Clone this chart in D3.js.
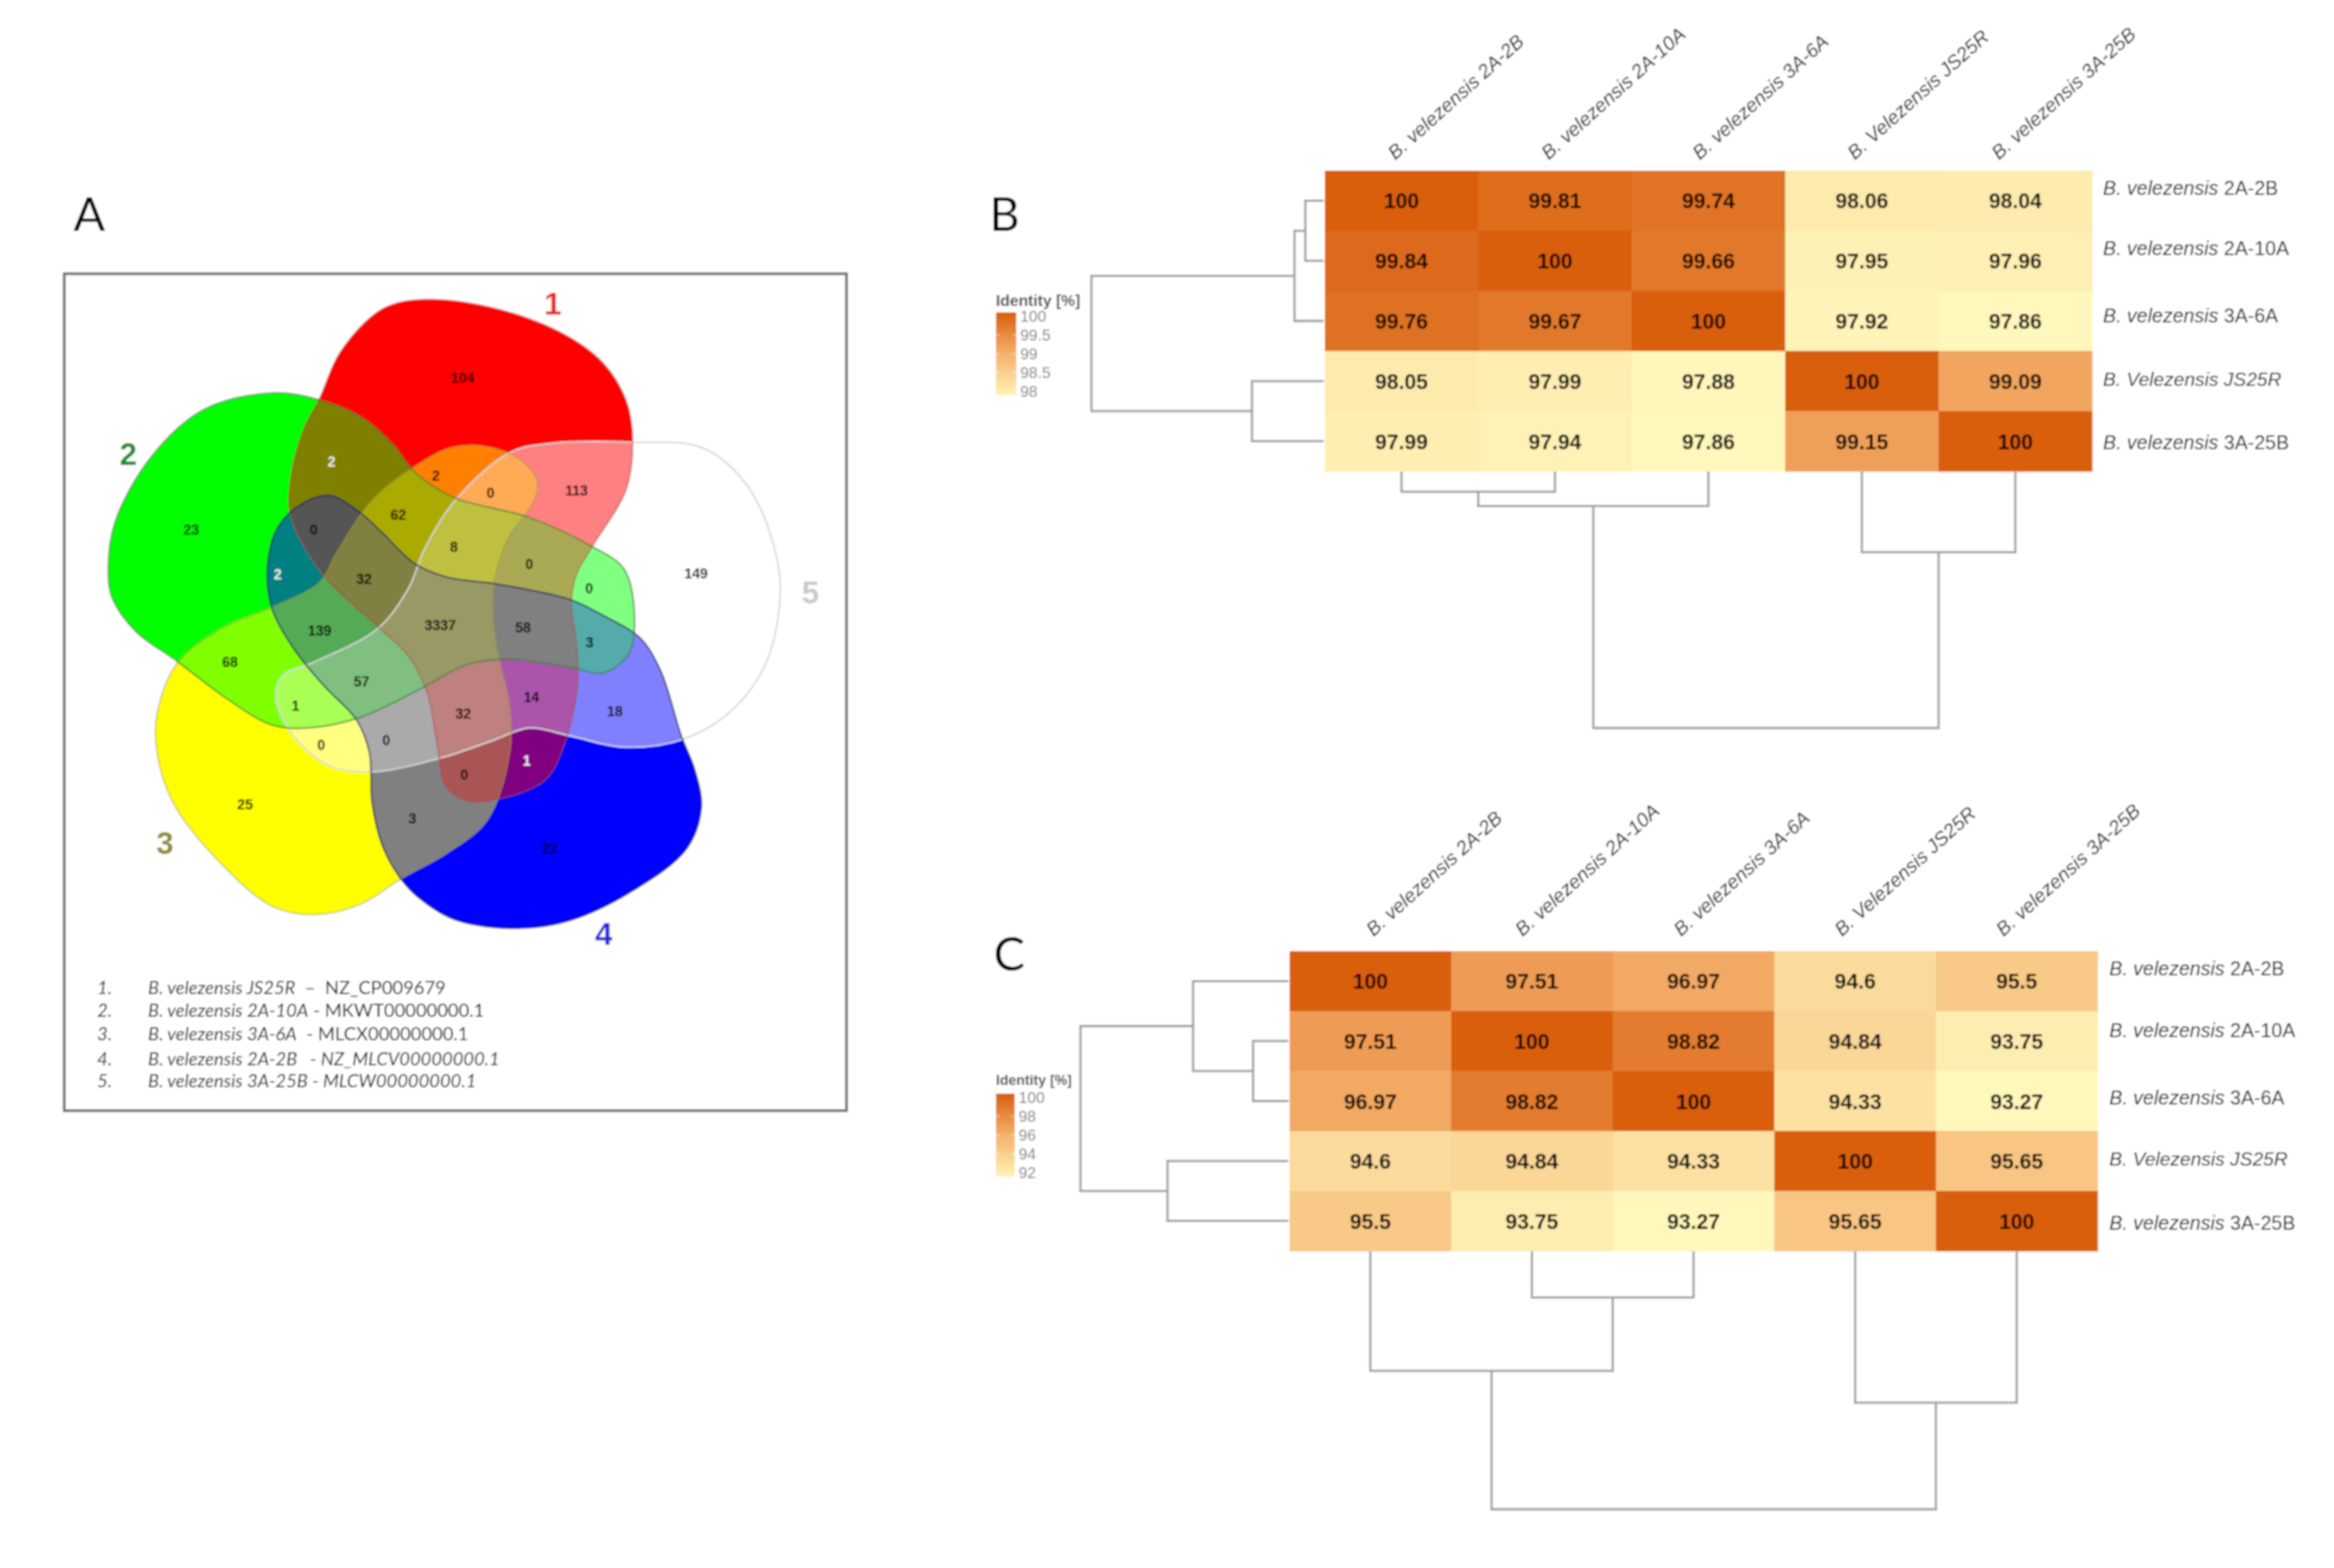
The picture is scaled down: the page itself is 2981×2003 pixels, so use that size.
<!DOCTYPE html>
<html>
<head>
<meta charset="utf-8">
<title>Venn diagram and identity heatmaps</title>
<script src="https://cdn.jsdelivr.net/npm/d3@7"></script>
<style>
html,body{margin:0;padding:0;background:#fff}
svg{display:block}
text{font-family:"Liberation Sans",Arial,sans-serif}
</style>
</head>
<body>
<svg id="chart" width="2981" height="2003"></svg>
<script>
// ---------- data ----------
const strains = ["2A-2B","2A-10A","3A-6A","JS25R","3A-25B"];
const colLabelsItalic = ["B. velezensis 2A-2B","B. velezensis 2A-10A","B. velezensis 3A-6A","B. Velezensis JS25R","B. velezensis 3A-25B"];
const aniValues = [
  [100,99.81,99.74,98.06,98.04],
  [99.84,100,99.66,97.95,97.96],
  [99.76,99.67,100,97.92,97.86],
  [98.05,97.99,97.88,100,99.09],
  [97.99,97.94,97.86,99.15,100]];
const dddhValues = [
  [100,97.51,96.97,94.6,95.5],
  [97.51,100,98.82,94.84,93.75],
  [96.97,98.82,100,94.33,93.27],
  [94.6,94.84,94.33,100,95.65],
  [95.5,93.75,93.27,95.65,100]];
const aniTicks = [100,99.5,99,98.5,98];
const dddhTicks = [100,98,96,94,92];
// dendrogram merges: relative height, children (row/column index or sub-tree)
const aniRowTree = {h:1,kids:[{h:.121,kids:[{h:.074,kids:[0,1]},2]},{h:.305,kids:[3,4]}]};
const aniColTree = {h:1,kids:[{h:.13,kids:[{h:.074,kids:[0,1]},2]},{h:.311,kids:[3,4]}]};
const dddhRowTree = {h:1,kids:[{h:.455,kids:[0,{h:.165,kids:[1,2]}]},{h:.579,kids:[3,4]}]};
const dddhColTree = {h:1,kids:[{h:.461,kids:[0,{h:.175,kids:[1,2]}]},{h:.585,kids:[3,4]}]};

// Venn: set outlines in diagram units (0..1568)
const setRed = [[520,255],[560,170],[640,92],[720,75],[850,90],[980,135],[1060,190],[1105,260],[1117,335],[1105,420],[1040,525],[1010,575],[1000,630],[1010,700],[1012,780],[985,890],[950,950],[860,985],[800,988],[760,960],[745,890],[725,790],[690,725],[630,670],[530,580],[465,470],[465,400],[490,310]];
const setGreen = [[430,245],[520,258],[600,290],[660,340],[700,388],[775,435],[920,472],[1040,525],[1100,565],[1120,640],[1110,720],[1060,755],[1000,745],[880,730],[800,740],[720,780],[600,835],[500,855],[430,850],[340,800],[250,735],[170,680],[125,620],[117,570],[130,480],[200,360],[300,275]];
const setYellow = [[250,735],[210,830],[210,900],[240,990],[330,1100],[430,1180],[510,1195],[600,1175],[675,1130],[760,1085],[830,1035],[860,985],[885,880],[880,800],[860,720],[850,640],[855,580],[880,510],[930,440],[935,405],[900,365],[840,343],[770,345],[700,380],[620,440],[550,540],[520,590],[430,635],[340,670]];
const setBlue = [[675,1130],[710,1165],[780,1205],[900,1220],[1000,1205],[1120,1150],[1220,1075],[1248,1000],[1235,930],[1210,870],[1170,750],[1130,690],[1060,650],[1000,622],[900,600],[850,592],[760,580],[700,555],[640,500],[600,465],[540,432],[490,445],[440,490],[420,570],[430,640],[470,710],[530,780],[590,840],[615,900],[620,990],[640,1070]];
const setWhite = [[880,355],[960,337],[1117,335],[1250,345],[1340,420],[1395,560],[1395,650],[1370,740],[1310,820],[1215,875],[1100,890],[1000,870],[920,855],[850,878],[750,910],[620,935],[540,925],[470,870],[437,800],[450,760],[510,735],[630,675],[690,600],[720,530],[775,445]];
const vennSets = [setRed,setGreen,setYellow,setBlue,setWhite];
const setColors = ["#ff0000","#00ff00","#ffff00","#0000ff","#ffffff"];
const setStrokes = ["#a23a3a","#2f7d2f","#8c8c30","#20205a","#d6d6d6"];
const setStrokeOpacity = [.45,.7,.45,.75,1];
const setNames = ["1","2","3","4","5"];
const setNameColors = ["#ef2b2b","#1f8a32","#8f8b2e","#2525e0","#c9c9c9"];
const setNamePos = [[965,82],[155,357],[225,1065],[1062,1230],[1456,608]];
const vennCounts = [
 ["104",793,218],["23",275,495],["25",378,995],["22",958,1075],["149",1238,575],
 ["2",543,370,1],["2",742,396],["0",846,428],["113",1010,423],["62",670,468],
 ["8",776,526],["0",920,557],["0",509,495],["2",440,576,1],["32",605,584],
 ["0",1034,602],["3337",750,668],["58",908,673],["3",1035,700],["139",520,678],
 ["68",349,736],["57",600,771],["14",924,799],["32",794,829],["18",1083,825],
 ["1",474,816],["0",523,887],["0",647,878],["0",796,941],["1",915,915,1],["3",697,1021]];
const legendRows = [
 ["1.","B. velezensis JS25R","  –  NZ_CP009679",false],
 ["2.","B. velezensis 2A-10A"," - MKWT00000000.1",false],
 ["3.","B. velezensis 3A-6A","  - MLCX00000000.1",false],
 ["4.","B. velezensis 2A-2B","   - NZ_MLCV00000000.1",true],
 ["5.","B. velezensis 3A-25B"," - MLCW00000000.1",true]];

// ---------- layout ----------
const svg = d3.select("#chart");
const defs = svg.append("defs");
defs.append("filter").attr("id","soft")
  .attr("filterUnits","userSpaceOnUse").attr("x",0).attr("y",0).attr("width",2981).attr("height",2003)
  .append("feGaussianBlur").attr("stdDeviation",0.8);
const root = svg.append("g").attr("filter","url(#soft)");
root.append("rect").attr("width",2981).attr("height",2003).attr("fill","#fff");

// panel letters
[["A",114,272],["B",1283,272],["C",1289,1217]].forEach(([t,x,y])=>{
  root.append("text").attr("x",x).attr("y",y).attr("text-anchor","middle").attr("dominant-baseline","central")
    .style("font-family","Lato").attr("font-size",60).attr("fill","#000").text(t);
});

// ---------- panel A: Venn ----------
const vx = d3.scaleLinear().domain([0,1568]).range([60,1110]);
const vy = d3.scaleLinear().domain([0,1568]).range([330,1430]);
const outline = d3.line().x(d=>vx(d[0])).y(d=>vy(d[1])).curve(d3.curveCatmullRomClosed.alpha(0.5));
const pathD = vennSets.map(s=>outline(s));

const A = root.append("g");
A.append("rect").attr("x",vx(33)).attr("y",vy(28)).attr("width",vx(1525)-vx(33)).attr("height",vy(1552)-vy(28))
  .attr("fill","#fff").attr("stroke","#6e6e6e").attr("stroke-width",3.5);

pathD.forEach((d,i)=>defs.append("clipPath").attr("id","clipSet"+i).append("path").attr("d",d));

const subsets = d3.range(1,32);
subsets.forEach(bits=>{
  const inc = d3.range(5).filter(i=>bits>>i&1), exc = d3.range(5).filter(i=>!(bits>>i&1));
  const rgbs = inc.map(i=>d3.rgb(setColors[i]));
  const fill = d3.rgb(d3.mean(rgbs,c=>c.r),d3.mean(rgbs,c=>c.g),d3.mean(rgbs,c=>c.b));
  const mask = defs.append("mask").attr("id","maskSub"+bits).attr("maskUnits","userSpaceOnUse")
    .attr("x",0).attr("y",0).attr("width",2981).attr("height",2003);
  mask.append("rect").attr("width",2981).attr("height",2003).attr("fill","#fff");
  exc.forEach(i=>mask.append("path").attr("d",pathD[i]).attr("fill","#000"));
  let g = A.append("g").attr("mask","url(#maskSub"+bits+")");
  inc.forEach(i=>{g = g.append("g").attr("clip-path","url(#clipSet"+i+")");});
  g.append("rect").attr("x",vx(33)).attr("y",vy(28)).attr("width",vx(1525)-vx(33)).attr("height",vy(1552)-vy(28)).attr("fill",fill.formatHex());
});
// outlines, white one first
[4,0,2,3,1].forEach(i=>A.append("path").attr("d",pathD[i]).attr("fill","none")
  .attr("stroke",setStrokes[i]).attr("stroke-width",2).attr("stroke-opacity",setStrokeOpacity[i]));

A.selectAll("text.count").data(vennCounts).join("text").attr("class","count")
  .attr("x",d=>vx(d[1])).attr("y",d=>vy(d[2])).attr("text-anchor","middle").attr("dominant-baseline","central")
  .attr("font-size",18).attr("font-weight","bold").attr("fill",d=>d[3]?"#eee":"#000").text(d=>d[0]);
A.selectAll("text.setname").data(setNames).join("text").attr("class","setname")
  .attr("x",(d,i)=>vx(setNamePos[i][0])).attr("y",(d,i)=>vy(setNamePos[i][1])).attr("text-anchor","middle").attr("dominant-baseline","central")
  .attr("font-size",40).attr("font-weight","bold").attr("fill",(d,i)=>setNameColors[i]).text(d=>d);

const legendY = d3.scalePoint().domain(d3.range(5)).range([1261,1380]);
const legendNudge = [0,-1,-1,2,0];
legendRows.forEach((r,i)=>{
  const y = legendY(i)+legendNudge[i];
  A.append("text").attr("x",124).attr("y",y).attr("dominant-baseline","central")
    .style("font-family","Lato").attr("font-size",23.5).attr("font-style","italic").attr("fill","#111").text(r[0]);
  const s = A.append("text").attr("x",189).attr("y",y).attr("dominant-baseline","central").attr("xml:space","preserve")
    .style("font-family","Lato").style("white-space","pre").attr("font-size",23.5).attr("fill","#111");
  s.append("tspan").attr("font-style","italic").text(r[1]);
  s.append("tspan").attr("font-style",r[3]?"italic":"normal").text(r[2]);
});

// ---------- heatmaps ----------
function heatmap(cfg){
  const g = root.append("g");
  const x = d3.scaleBand().domain(d3.range(5)).range(cfg.xr);
  const y = d3.scaleBand().domain(d3.range(5)).range(cfg.yr);
  const flat = cfg.values.flat();
  const lo = d3.min(flat), hi = d3.max(flat);
  const color = d3.scaleLinear().domain([lo,(lo+hi)/2,hi]).range(["#fff7bc","#f5b16c","#d95f0e"]).clamp(true);

  cfg.values.forEach((row,r)=>row.forEach((v,c)=>{
    g.append("rect").attr("x",x(c)).attr("y",y(r)).attr("width",x.bandwidth()+.5).attr("height",y.bandwidth()+.5).attr("fill",color(v));
  }));
  cfg.values.forEach((row,r)=>row.forEach((v,c)=>{
    g.append("text").attr("x",x(c)+x.bandwidth()/2).attr("y",y(r)+y.bandwidth()/2+1).attr("text-anchor","middle").attr("dominant-baseline","central")
     .attr("font-size",cfg.cellFont).attr("font-weight","bold").attr("fill","#000").text(v);
  }));

  // row labels
  strains.forEach((s,r)=>{
    const t = g.append("text").attr("x",cfg.rowLabelX).attr("y",y(r)+y.bandwidth()/2+cfg.rowNudge[r]).attr("dominant-baseline","central")
      .attr("font-size",25).attr("fill","#000");
    if(s==="JS25R"){ t.attr("font-style","italic").attr("font-size",24.5).text("B. Velezensis JS25R"); }
    else { t.append("tspan").attr("font-style","italic").text("B. velezensis "); t.append("tspan").text(s); }
  });
  // column labels
  colLabelsItalic.forEach((s,c)=>{
    const px = x(c)+x.bandwidth()/2+cfg.colNudge[c];
    g.append("text").attr("transform",`translate(${px},${cfg.colLabelY}) rotate(-42)`)
      .attr("font-size",25).attr("font-style","italic").attr("fill","#000").text(s);
  });

  // dendrograms
  const rowH = d3.scaleLinear().domain([0,1]).range(cfg.rowDend);
  const colH = d3.scaleLinear().domain([0,1]).range(cfg.colDend);
  const rowPath = d3.path(), colPath = d3.path();
  function walk(node,band,hs,path,horiz){
    if(typeof node==="number") return {pos:band(node)+band.bandwidth()/2,h:0};
    const pts = node.kids.map(k=>walk(k,band,hs,path,horiz));
    const H = hs(node.h);
    pts.forEach(p=>{
      if(horiz){path.moveTo(hs(p.h),p.pos);path.lineTo(H,p.pos);}
      else {path.moveTo(p.pos,hs(p.h));path.lineTo(p.pos,H);}
    });
    if(horiz){path.moveTo(H,pts[0].pos);path.lineTo(H,pts[1].pos);}
    else {path.moveTo(pts[0].pos,H);path.lineTo(pts[1].pos,H);}
    return {pos:(pts[0].pos+pts[1].pos)/2,h:node.h};
  }
  walk(cfg.rowTree,y,rowH,rowPath,true);
  walk(cfg.colTree,x,colH,colPath,false);
  [rowPath,colPath].forEach(p=>g.append("path").attr("d",p.toString()).attr("fill","none")
    .attr("stroke","#9c9c9c").attr("stroke-width",2.8).attr("stroke-linecap","square"));

  // colour legend
  const ly = d3.scaleLinear().domain([cfg.ticks[cfg.ticks.length-1],cfg.ticks[0]]).range(cfg.legendY);
  const gradId = "grad"+cfg.id;
  const grad = defs.append("linearGradient").attr("id",gradId).attr("x1",0).attr("y1",1).attr("x2",0).attr("y2",0);
  const legendColor = d3.scaleLinear().domain([ly.domain()[0],d3.mean(ly.domain()),ly.domain()[1]]).range(["#fff3b6","#f5b16c","#d95f0e"]);
  d3.range(0,1.01,.1).forEach(t=>grad.append("stop").attr("offset",t).attr("stop-color",legendColor(ly.domain()[0]+t*(ly.domain()[1]-ly.domain()[0]))));
  g.append("rect").attr("x",1272).attr("width",cfg.legendW).attr("y",ly.range()[1]-5).attr("height",ly.range()[0]-ly.range()[1]+10).attr("fill",`url(#${gradId})`);
  cfg.ticks.slice(1,-1).forEach(t=>{
    [[1272,1277],[1272+cfg.legendW-5,1272+cfg.legendW]].forEach(e=>
      g.append("line").attr("x1",e[0]).attr("x2",e[1]).attr("y1",ly(t)).attr("y2",ly(t)).attr("stroke","#fff").attr("stroke-opacity",.5).attr("stroke-width",1.5));
  });
  g.selectAll("text.tick").data(cfg.ticks).join("text").attr("class","tick").attr("x",1272+cfg.legendW+5).attr("y",d=>ly(d)).attr("dominant-baseline","central")
    .attr("font-size",20).attr("fill","#7a7a7a").text(d=>d);
  g.append("text").attr("x",1272).attr("y",cfg.legendTitleY).attr("dominant-baseline","central")
    .attr("font-size",cfg.legendTitleFont).attr("font-weight","bold").attr("fill","#444").text("Identity [%]");
}

heatmap({id:"B",values:aniValues,ticks:aniTicks,xr:[1692,2672],yr:[218,602],cellFont:27,
  rowLabelX:2686,rowNudge:[-16,-16,-7,-2,1],colLabelY:205,colNudge:[-8,-8,-11,-9,-21],
  rowTree:aniRowTree,colTree:aniColTree,rowDend:[1689,1394],colDend:[604,930],
  legendY:[500,404],legendW:26,legendTitleY:384,legendTitleFont:20});
heatmap({id:"C",values:dddhValues,ticks:dddhTicks,xr:[1647,2679],yr:[1215,1598],cellFont:27,
  rowLabelX:2694,rowNudge:[-16,-14,-5,-3,2],colLabelY:1197,colNudge:[4,-12,-16,-17,-17],
  rowTree:dddhRowTree,colTree:dddhColTree,rowDend:[1644,1380],colDend:[1600,1928],
  legendY:[1498,1402],legendW:24,legendTitleY:1380,legendTitleFont:18});
</script>
</body>
</html>
